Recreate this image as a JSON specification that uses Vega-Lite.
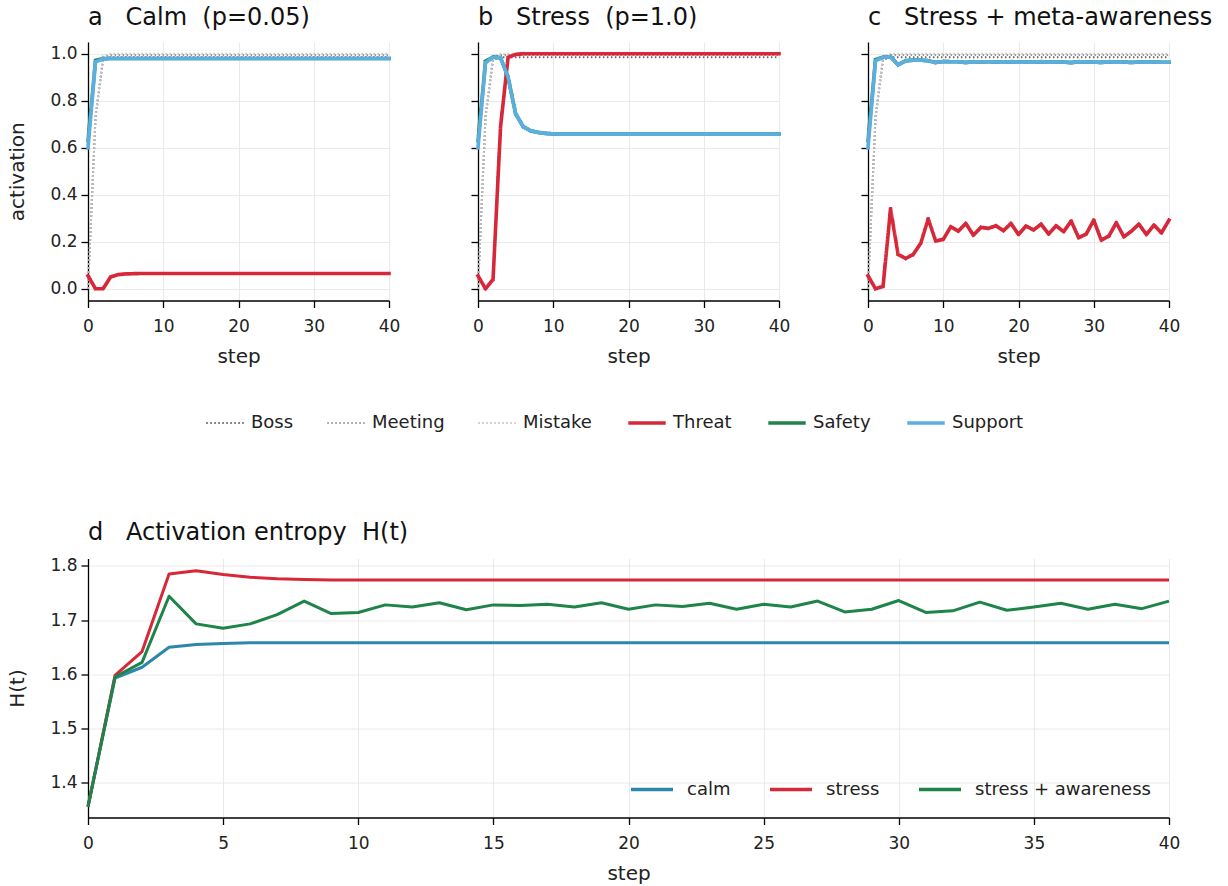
{
"$schema": "https://vega.github.io/schema/vega-lite/v6.json",
"padding": {"left": 7, "top": 6, "right": 10, "bottom": 6},
"background": "white",
"config": {
  "font": "DejaVu Sans",
  "view": {"stroke": null},
  "axis": {"domainColor": "#000", "domainWidth": 1.3, "tickColor": "#000", "tickWidth": 1.3, "tickSize": 7, "labelFont": "DejaVu Sans", "labelFontSize": 17, "labelColor": "#222", "labelPadding": 4, "labelFlush": false, "titleFont": "DejaVu Sans", "titleFontSize": 20, "titleFontWeight": "normal", "titleColor": "#222", "gridColor": "#e8e8e8", "gridWidth": 0.9},
  "axisX": {"titlePadding": 12, "labelPadding": 11},
  "axisY": {"titlePadding": 22},
  "title": {"font": "DejaVu Sans", "fontSize": 24, "fontWeight": "normal", "color": "#111", "anchor": "start", "frame": "group", "offset": 12},
  "legend": {"labelFont": "DejaVu Sans", "labelFontSize": 18, "labelColor": "#222", "labelLimit": 400}
},
"datasets": {
"a": [
{"step":0,"Boss":0,"Meeting":0,"Mistake":0,"Threat":0.055,"Safety":0.63,"Support":0.6},
{"step":1,"Boss":0.73,"Meeting":0.73,"Mistake":0.73,"Threat":0.0,"Safety":0.972,"Support":0.966},
{"step":2,"Boss":0.975,"Meeting":0.985,"Mistake":0.99,"Threat":0.0,"Safety":0.979,"Support":0.978},
{"step":3,"Boss":0.985,"Meeting":0.995,"Mistake":1.0,"Threat":0.05,"Safety":0.98,"Support":0.98},
{"step":4,"Boss":0.985,"Meeting":0.995,"Mistake":1.0,"Threat":0.06,"Safety":0.98,"Support":0.98},
{"step":5,"Boss":0.985,"Meeting":0.995,"Mistake":1.0,"Threat":0.063,"Safety":0.98,"Support":0.98},
{"step":6,"Boss":0.985,"Meeting":0.995,"Mistake":1.0,"Threat":0.064,"Safety":0.98,"Support":0.98},
{"step":7,"Boss":0.985,"Meeting":0.995,"Mistake":1.0,"Threat":0.065,"Safety":0.98,"Support":0.98},
{"step":8,"Boss":0.985,"Meeting":0.995,"Mistake":1.0,"Threat":0.065,"Safety":0.98,"Support":0.98},
{"step":9,"Boss":0.985,"Meeting":0.995,"Mistake":1.0,"Threat":0.065,"Safety":0.98,"Support":0.98},
{"step":10,"Boss":0.985,"Meeting":0.995,"Mistake":1.0,"Threat":0.065,"Safety":0.98,"Support":0.98},
{"step":11,"Boss":0.985,"Meeting":0.995,"Mistake":1.0,"Threat":0.065,"Safety":0.98,"Support":0.98},
{"step":12,"Boss":0.985,"Meeting":0.995,"Mistake":1.0,"Threat":0.065,"Safety":0.98,"Support":0.98},
{"step":13,"Boss":0.985,"Meeting":0.995,"Mistake":1.0,"Threat":0.065,"Safety":0.98,"Support":0.98},
{"step":14,"Boss":0.985,"Meeting":0.995,"Mistake":1.0,"Threat":0.065,"Safety":0.98,"Support":0.98},
{"step":15,"Boss":0.985,"Meeting":0.995,"Mistake":1.0,"Threat":0.065,"Safety":0.98,"Support":0.98},
{"step":16,"Boss":0.985,"Meeting":0.995,"Mistake":1.0,"Threat":0.065,"Safety":0.98,"Support":0.98},
{"step":17,"Boss":0.985,"Meeting":0.995,"Mistake":1.0,"Threat":0.065,"Safety":0.98,"Support":0.98},
{"step":18,"Boss":0.985,"Meeting":0.995,"Mistake":1.0,"Threat":0.065,"Safety":0.98,"Support":0.98},
{"step":19,"Boss":0.985,"Meeting":0.995,"Mistake":1.0,"Threat":0.065,"Safety":0.98,"Support":0.98},
{"step":20,"Boss":0.985,"Meeting":0.995,"Mistake":1.0,"Threat":0.065,"Safety":0.98,"Support":0.98},
{"step":21,"Boss":0.985,"Meeting":0.995,"Mistake":1.0,"Threat":0.065,"Safety":0.98,"Support":0.98},
{"step":22,"Boss":0.985,"Meeting":0.995,"Mistake":1.0,"Threat":0.065,"Safety":0.98,"Support":0.98},
{"step":23,"Boss":0.985,"Meeting":0.995,"Mistake":1.0,"Threat":0.065,"Safety":0.98,"Support":0.98},
{"step":24,"Boss":0.985,"Meeting":0.995,"Mistake":1.0,"Threat":0.065,"Safety":0.98,"Support":0.98},
{"step":25,"Boss":0.985,"Meeting":0.995,"Mistake":1.0,"Threat":0.065,"Safety":0.98,"Support":0.98},
{"step":26,"Boss":0.985,"Meeting":0.995,"Mistake":1.0,"Threat":0.065,"Safety":0.98,"Support":0.98},
{"step":27,"Boss":0.985,"Meeting":0.995,"Mistake":1.0,"Threat":0.065,"Safety":0.98,"Support":0.98},
{"step":28,"Boss":0.985,"Meeting":0.995,"Mistake":1.0,"Threat":0.065,"Safety":0.98,"Support":0.98},
{"step":29,"Boss":0.985,"Meeting":0.995,"Mistake":1.0,"Threat":0.065,"Safety":0.98,"Support":0.98},
{"step":30,"Boss":0.985,"Meeting":0.995,"Mistake":1.0,"Threat":0.065,"Safety":0.98,"Support":0.98},
{"step":31,"Boss":0.985,"Meeting":0.995,"Mistake":1.0,"Threat":0.065,"Safety":0.98,"Support":0.98},
{"step":32,"Boss":0.985,"Meeting":0.995,"Mistake":1.0,"Threat":0.065,"Safety":0.98,"Support":0.98},
{"step":33,"Boss":0.985,"Meeting":0.995,"Mistake":1.0,"Threat":0.065,"Safety":0.98,"Support":0.98},
{"step":34,"Boss":0.985,"Meeting":0.995,"Mistake":1.0,"Threat":0.065,"Safety":0.98,"Support":0.98},
{"step":35,"Boss":0.985,"Meeting":0.995,"Mistake":1.0,"Threat":0.065,"Safety":0.98,"Support":0.98},
{"step":36,"Boss":0.985,"Meeting":0.995,"Mistake":1.0,"Threat":0.065,"Safety":0.98,"Support":0.98},
{"step":37,"Boss":0.985,"Meeting":0.995,"Mistake":1.0,"Threat":0.065,"Safety":0.98,"Support":0.98},
{"step":38,"Boss":0.985,"Meeting":0.995,"Mistake":1.0,"Threat":0.065,"Safety":0.98,"Support":0.98},
{"step":39,"Boss":0.985,"Meeting":0.995,"Mistake":1.0,"Threat":0.065,"Safety":0.98,"Support":0.98},
{"step":40,"Boss":0.985,"Meeting":0.995,"Mistake":1.0,"Threat":0.065,"Safety":0.98,"Support":0.98}
],
"b": [
{"step":0,"Boss":0,"Meeting":0,"Mistake":0,"Threat":0.055,"Safety":0.63,"Support":0.6},
{"step":1,"Boss":0.73,"Meeting":0.73,"Mistake":0.73,"Threat":0.0,"Safety":0.968,"Support":0.962},
{"step":2,"Boss":0.975,"Meeting":0.985,"Mistake":0.99,"Threat":0.04,"Safety":0.986,"Support":0.985},
{"step":3,"Boss":0.985,"Meeting":0.995,"Mistake":1.0,"Threat":0.69,"Safety":0.983,"Support":0.983},
{"step":4,"Boss":0.985,"Meeting":0.995,"Mistake":1.0,"Threat":0.985,"Safety":0.9,"Support":0.9},
{"step":5,"Boss":0.985,"Meeting":0.995,"Mistake":1.0,"Threat":0.997,"Safety":0.745,"Support":0.745},
{"step":6,"Boss":0.985,"Meeting":0.995,"Mistake":1.0,"Threat":1.0,"Safety":0.69,"Support":0.69},
{"step":7,"Boss":0.985,"Meeting":0.995,"Mistake":1.0,"Threat":1.0,"Safety":0.672,"Support":0.672},
{"step":8,"Boss":0.985,"Meeting":0.995,"Mistake":1.0,"Threat":1.0,"Safety":0.665,"Support":0.665},
{"step":9,"Boss":0.985,"Meeting":0.995,"Mistake":1.0,"Threat":1.0,"Safety":0.661,"Support":0.661},
{"step":10,"Boss":0.985,"Meeting":0.995,"Mistake":1.0,"Threat":1.0,"Safety":0.659,"Support":0.659},
{"step":11,"Boss":0.985,"Meeting":0.995,"Mistake":1.0,"Threat":1.0,"Safety":0.658,"Support":0.658},
{"step":12,"Boss":0.985,"Meeting":0.995,"Mistake":1.0,"Threat":1.0,"Safety":0.658,"Support":0.658},
{"step":13,"Boss":0.985,"Meeting":0.995,"Mistake":1.0,"Threat":1.0,"Safety":0.658,"Support":0.658},
{"step":14,"Boss":0.985,"Meeting":0.995,"Mistake":1.0,"Threat":1.0,"Safety":0.658,"Support":0.658},
{"step":15,"Boss":0.985,"Meeting":0.995,"Mistake":1.0,"Threat":1.0,"Safety":0.658,"Support":0.658},
{"step":16,"Boss":0.985,"Meeting":0.995,"Mistake":1.0,"Threat":1.0,"Safety":0.658,"Support":0.658},
{"step":17,"Boss":0.985,"Meeting":0.995,"Mistake":1.0,"Threat":1.0,"Safety":0.658,"Support":0.658},
{"step":18,"Boss":0.985,"Meeting":0.995,"Mistake":1.0,"Threat":1.0,"Safety":0.658,"Support":0.658},
{"step":19,"Boss":0.985,"Meeting":0.995,"Mistake":1.0,"Threat":1.0,"Safety":0.658,"Support":0.658},
{"step":20,"Boss":0.985,"Meeting":0.995,"Mistake":1.0,"Threat":1.0,"Safety":0.658,"Support":0.658},
{"step":21,"Boss":0.985,"Meeting":0.995,"Mistake":1.0,"Threat":1.0,"Safety":0.658,"Support":0.658},
{"step":22,"Boss":0.985,"Meeting":0.995,"Mistake":1.0,"Threat":1.0,"Safety":0.658,"Support":0.658},
{"step":23,"Boss":0.985,"Meeting":0.995,"Mistake":1.0,"Threat":1.0,"Safety":0.658,"Support":0.658},
{"step":24,"Boss":0.985,"Meeting":0.995,"Mistake":1.0,"Threat":1.0,"Safety":0.658,"Support":0.658},
{"step":25,"Boss":0.985,"Meeting":0.995,"Mistake":1.0,"Threat":1.0,"Safety":0.658,"Support":0.658},
{"step":26,"Boss":0.985,"Meeting":0.995,"Mistake":1.0,"Threat":1.0,"Safety":0.658,"Support":0.658},
{"step":27,"Boss":0.985,"Meeting":0.995,"Mistake":1.0,"Threat":1.0,"Safety":0.658,"Support":0.658},
{"step":28,"Boss":0.985,"Meeting":0.995,"Mistake":1.0,"Threat":1.0,"Safety":0.658,"Support":0.658},
{"step":29,"Boss":0.985,"Meeting":0.995,"Mistake":1.0,"Threat":1.0,"Safety":0.658,"Support":0.658},
{"step":30,"Boss":0.985,"Meeting":0.995,"Mistake":1.0,"Threat":1.0,"Safety":0.658,"Support":0.658},
{"step":31,"Boss":0.985,"Meeting":0.995,"Mistake":1.0,"Threat":1.0,"Safety":0.658,"Support":0.658},
{"step":32,"Boss":0.985,"Meeting":0.995,"Mistake":1.0,"Threat":1.0,"Safety":0.658,"Support":0.658},
{"step":33,"Boss":0.985,"Meeting":0.995,"Mistake":1.0,"Threat":1.0,"Safety":0.658,"Support":0.658},
{"step":34,"Boss":0.985,"Meeting":0.995,"Mistake":1.0,"Threat":1.0,"Safety":0.658,"Support":0.658},
{"step":35,"Boss":0.985,"Meeting":0.995,"Mistake":1.0,"Threat":1.0,"Safety":0.658,"Support":0.658},
{"step":36,"Boss":0.985,"Meeting":0.995,"Mistake":1.0,"Threat":1.0,"Safety":0.658,"Support":0.658},
{"step":37,"Boss":0.985,"Meeting":0.995,"Mistake":1.0,"Threat":1.0,"Safety":0.658,"Support":0.658},
{"step":38,"Boss":0.985,"Meeting":0.995,"Mistake":1.0,"Threat":1.0,"Safety":0.658,"Support":0.658},
{"step":39,"Boss":0.985,"Meeting":0.995,"Mistake":1.0,"Threat":1.0,"Safety":0.658,"Support":0.658},
{"step":40,"Boss":0.985,"Meeting":0.995,"Mistake":1.0,"Threat":1.0,"Safety":0.658,"Support":0.658}
],
"c": [
{"step":0,"Boss":0,"Meeting":0,"Mistake":0,"Threat":0.055,"Safety":0.63,"Support":0.6},
{"step":1,"Boss":0.73,"Meeting":0.73,"Mistake":0.73,"Threat":0.0,"Safety":0.975,"Support":0.97},
{"step":2,"Boss":0.975,"Meeting":0.985,"Mistake":0.99,"Threat":0.01,"Safety":0.985,"Support":0.985},
{"step":3,"Boss":0.985,"Meeting":0.995,"Mistake":1.0,"Threat":0.34,"Safety":0.987,"Support":0.987},
{"step":4,"Boss":0.985,"Meeting":0.995,"Mistake":1.0,"Threat":0.146,"Safety":0.953,"Support":0.953},
{"step":5,"Boss":0.985,"Meeting":0.995,"Mistake":1.0,"Threat":0.129,"Safety":0.97,"Support":0.97},
{"step":6,"Boss":0.985,"Meeting":0.995,"Mistake":1.0,"Threat":0.146,"Safety":0.973,"Support":0.973},
{"step":7,"Boss":0.985,"Meeting":0.995,"Mistake":1.0,"Threat":0.193,"Safety":0.973,"Support":0.973},
{"step":8,"Boss":0.985,"Meeting":0.995,"Mistake":1.0,"Threat":0.297,"Safety":0.97,"Support":0.97},
{"step":9,"Boss":0.985,"Meeting":0.995,"Mistake":1.0,"Threat":0.203,"Safety":0.963,"Support":0.963},
{"step":10,"Boss":0.985,"Meeting":0.995,"Mistake":1.0,"Threat":0.21,"Safety":0.967,"Support":0.967},
{"step":11,"Boss":0.985,"Meeting":0.995,"Mistake":1.0,"Threat":0.264,"Safety":0.966,"Support":0.966},
{"step":12,"Boss":0.985,"Meeting":0.995,"Mistake":1.0,"Threat":0.245,"Safety":0.966,"Support":0.966},
{"step":13,"Boss":0.985,"Meeting":0.995,"Mistake":1.0,"Threat":0.278,"Safety":0.963,"Support":0.963},
{"step":14,"Boss":0.985,"Meeting":0.995,"Mistake":1.0,"Threat":0.228,"Safety":0.966,"Support":0.966},
{"step":15,"Boss":0.985,"Meeting":0.995,"Mistake":1.0,"Threat":0.261,"Safety":0.965,"Support":0.965},
{"step":16,"Boss":0.985,"Meeting":0.995,"Mistake":1.0,"Threat":0.257,"Safety":0.966,"Support":0.966},
{"step":17,"Boss":0.985,"Meeting":0.995,"Mistake":1.0,"Threat":0.268,"Safety":0.965,"Support":0.965},
{"step":18,"Boss":0.985,"Meeting":0.995,"Mistake":1.0,"Threat":0.247,"Safety":0.964,"Support":0.964},
{"step":19,"Boss":0.985,"Meeting":0.995,"Mistake":1.0,"Threat":0.278,"Safety":0.966,"Support":0.966},
{"step":20,"Boss":0.985,"Meeting":0.995,"Mistake":1.0,"Threat":0.231,"Safety":0.964,"Support":0.964},
{"step":21,"Boss":0.985,"Meeting":0.995,"Mistake":1.0,"Threat":0.267,"Safety":0.965,"Support":0.965},
{"step":22,"Boss":0.985,"Meeting":0.995,"Mistake":1.0,"Threat":0.25,"Safety":0.964,"Support":0.964},
{"step":23,"Boss":0.985,"Meeting":0.995,"Mistake":1.0,"Threat":0.275,"Safety":0.966,"Support":0.966},
{"step":24,"Boss":0.985,"Meeting":0.995,"Mistake":1.0,"Threat":0.233,"Safety":0.964,"Support":0.964},
{"step":25,"Boss":0.985,"Meeting":0.995,"Mistake":1.0,"Threat":0.268,"Safety":0.965,"Support":0.965},
{"step":26,"Boss":0.985,"Meeting":0.995,"Mistake":1.0,"Threat":0.243,"Safety":0.965,"Support":0.965},
{"step":27,"Boss":0.985,"Meeting":0.995,"Mistake":1.0,"Threat":0.288,"Safety":0.962,"Support":0.962},
{"step":28,"Boss":0.985,"Meeting":0.995,"Mistake":1.0,"Threat":0.217,"Safety":0.966,"Support":0.966},
{"step":29,"Boss":0.985,"Meeting":0.995,"Mistake":1.0,"Threat":0.233,"Safety":0.965,"Support":0.965},
{"step":30,"Boss":0.985,"Meeting":0.995,"Mistake":1.0,"Threat":0.292,"Safety":0.965,"Support":0.965},
{"step":31,"Boss":0.985,"Meeting":0.995,"Mistake":1.0,"Threat":0.207,"Safety":0.963,"Support":0.963},
{"step":32,"Boss":0.985,"Meeting":0.995,"Mistake":1.0,"Threat":0.224,"Safety":0.966,"Support":0.966},
{"step":33,"Boss":0.985,"Meeting":0.995,"Mistake":1.0,"Threat":0.281,"Safety":0.964,"Support":0.964},
{"step":34,"Boss":0.985,"Meeting":0.995,"Mistake":1.0,"Threat":0.221,"Safety":0.965,"Support":0.965},
{"step":35,"Boss":0.985,"Meeting":0.995,"Mistake":1.0,"Threat":0.245,"Safety":0.963,"Support":0.963},
{"step":36,"Boss":0.985,"Meeting":0.995,"Mistake":1.0,"Threat":0.275,"Safety":0.965,"Support":0.965},
{"step":37,"Boss":0.985,"Meeting":0.995,"Mistake":1.0,"Threat":0.231,"Safety":0.964,"Support":0.964},
{"step":38,"Boss":0.985,"Meeting":0.995,"Mistake":1.0,"Threat":0.271,"Safety":0.965,"Support":0.965},
{"step":39,"Boss":0.985,"Meeting":0.995,"Mistake":1.0,"Threat":0.238,"Safety":0.964,"Support":0.964},
{"step":40,"Boss":0.985,"Meeting":0.995,"Mistake":1.0,"Threat":0.292,"Safety":0.964,"Support":0.964}
],
"h": [
{"step":0,"calm":1.356,"stress":1.356,"stress + awareness":1.356},
{"step":1,"calm":1.593,"stress":1.598,"stress + awareness":1.595},
{"step":2,"calm":1.613,"stress":1.642,"stress + awareness":1.622},
{"step":3,"calm":1.65,"stress":1.785,"stress + awareness":1.744},
{"step":4,"calm":1.655,"stress":1.791,"stress + awareness":1.693},
{"step":5,"calm":1.657,"stress":1.784,"stress + awareness":1.685},
{"step":6,"calm":1.658,"stress":1.779,"stress + awareness":1.693},
{"step":7,"calm":1.658,"stress":1.776,"stress + awareness":1.71},
{"step":8,"calm":1.658,"stress":1.775,"stress + awareness":1.735},
{"step":9,"calm":1.658,"stress":1.774,"stress + awareness":1.712},
{"step":10,"calm":1.658,"stress":1.774,"stress + awareness":1.714},
{"step":11,"calm":1.658,"stress":1.774,"stress + awareness":1.728},
{"step":12,"calm":1.658,"stress":1.774,"stress + awareness":1.724},
{"step":13,"calm":1.658,"stress":1.774,"stress + awareness":1.732},
{"step":14,"calm":1.658,"stress":1.774,"stress + awareness":1.719},
{"step":15,"calm":1.658,"stress":1.774,"stress + awareness":1.728},
{"step":16,"calm":1.658,"stress":1.774,"stress + awareness":1.727},
{"step":17,"calm":1.658,"stress":1.774,"stress + awareness":1.729},
{"step":18,"calm":1.658,"stress":1.774,"stress + awareness":1.724},
{"step":19,"calm":1.658,"stress":1.774,"stress + awareness":1.732},
{"step":20,"calm":1.658,"stress":1.774,"stress + awareness":1.72},
{"step":21,"calm":1.658,"stress":1.774,"stress + awareness":1.728},
{"step":22,"calm":1.658,"stress":1.774,"stress + awareness":1.725},
{"step":23,"calm":1.658,"stress":1.774,"stress + awareness":1.731},
{"step":24,"calm":1.658,"stress":1.774,"stress + awareness":1.72},
{"step":25,"calm":1.658,"stress":1.774,"stress + awareness":1.729},
{"step":26,"calm":1.658,"stress":1.774,"stress + awareness":1.724},
{"step":27,"calm":1.658,"stress":1.774,"stress + awareness":1.735},
{"step":28,"calm":1.658,"stress":1.774,"stress + awareness":1.715},
{"step":29,"calm":1.658,"stress":1.774,"stress + awareness":1.72},
{"step":30,"calm":1.658,"stress":1.774,"stress + awareness":1.736},
{"step":31,"calm":1.658,"stress":1.774,"stress + awareness":1.714},
{"step":32,"calm":1.658,"stress":1.774,"stress + awareness":1.717},
{"step":33,"calm":1.658,"stress":1.774,"stress + awareness":1.733},
{"step":34,"calm":1.658,"stress":1.774,"stress + awareness":1.718},
{"step":35,"calm":1.658,"stress":1.774,"stress + awareness":1.724},
{"step":36,"calm":1.658,"stress":1.774,"stress + awareness":1.731},
{"step":37,"calm":1.658,"stress":1.774,"stress + awareness":1.72},
{"step":38,"calm":1.658,"stress":1.774,"stress + awareness":1.729},
{"step":39,"calm":1.658,"stress":1.774,"stress + awareness":1.721},
{"step":40,"calm":1.658,"stress":1.774,"stress + awareness":1.735}
]
},
"vconcat": [
 {
  "hconcat": [
   {
    "width": 301, "height": 258.5,
    "title": {"text": "a\u00a0\u00a0\u00a0Calm\u00a0\u00a0(p=0.05)"},
    "data": {"name": "a"},
    "encoding": {
      "x": {"field": "step", "type": "quantitative", "scale": {"domain": [0, 40], "nice": false, "zero": false}, "axis": {"values": [0, 10, 20, 30, 40], "title": "step"}},
      "y": {"field": "value", "type": "quantitative", "scale": {"domain": [-0.05, 1.05], "nice": false, "zero": false}, "axis": {"values": [0, 0.2, 0.4, 0.6, 0.8, 1.0], "format": ".1f", "title": "activation"}},
      "color": {"field": "node", "type": "nominal", "scale": {"domain": ["Boss", "Meeting", "Mistake", "Threat", "Safety", "Support"], "range": ["#666666", "#999999", "#c4c4c4", "#d62839", "#1e8449", "#5aafe0"]}, "legend": null},
      "strokeDash": {"field": "node", "type": "nominal", "scale": {"domain": ["Boss", "Meeting", "Mistake", "Threat", "Safety", "Support"], "range": [[1.5, 2.5], [1.5, 2.5], [1.5, 2.5], [1, 0], [1, 0], [1, 0]]}, "legend": null}
    },
    "layer": [
      {"transform": [{"fold": ["Boss", "Meeting", "Mistake"], "as": ["node", "value"]}], "mark": {"type": "line", "strokeWidth": 2, "strokeCap": "butt"}},
      {"transform": [{"fold": ["Threat", "Safety", "Support"], "as": ["node", "value"]}], "mark": {"type": "line", "strokeWidth": 3.6, "strokeJoin": "round", "strokeCap": "square"}}
    ]
   },
   {
    "width": 301, "height": 258.5,
    "title": {"text": "b\u00a0\u00a0\u00a0Stress\u00a0\u00a0(p=1.0)"},
    "data": {"name": "b"},
    "encoding": {
      "x": {"field": "step", "type": "quantitative", "scale": {"domain": [0, 40], "nice": false, "zero": false}, "axis": {"values": [0, 10, 20, 30, 40], "title": "step"}},
      "y": {"field": "value", "type": "quantitative", "scale": {"domain": [-0.05, 1.05], "nice": false, "zero": false}, "axis": {"values": [0, 0.2, 0.4, 0.6, 0.8, 1.0], "labels": false, "title": null}},
      "color": {"field": "node", "type": "nominal", "scale": {"domain": ["Boss", "Meeting", "Mistake", "Threat", "Safety", "Support"], "range": ["#666666", "#999999", "#c4c4c4", "#d62839", "#1e8449", "#5aafe0"]},
        "legend": {"title": null, "orient": "none", "legendX": -262, "legendY": 372, "direction": "horizontal", "symbolType": "stroke", "symbolSize": 1400, "symbolStrokeWidth": 3.5, "labelOffset": 17, "columnPadding": 29, "labelFontSize": 18,
          "encode": {"symbols": {"update": {"strokeWidth": {"signal": "indexof(['Boss','Meeting','Mistake'], datum.value) >= 0 ? 2 : 3.5"}}}}}},
      "strokeDash": {"field": "node", "type": "nominal", "scale": {"domain": ["Boss", "Meeting", "Mistake", "Threat", "Safety", "Support"], "range": [[1.5, 2.5], [1.5, 2.5], [1.5, 2.5], [1, 0], [1, 0], [1, 0]]},
        "legend": {"title": null, "orient": "none", "legendX": -262, "legendY": 372, "direction": "horizontal", "symbolType": "stroke", "symbolSize": 1400, "symbolStrokeWidth": 3.5, "labelOffset": 17, "columnPadding": 29, "labelFontSize": 18,
          "encode": {"symbols": {"update": {"strokeWidth": {"signal": "indexof(['Boss','Meeting','Mistake'], datum.value) >= 0 ? 2 : 3.5"}}}}}}
    },
    "layer": [
      {"transform": [{"fold": ["Boss", "Meeting", "Mistake"], "as": ["node", "value"]}], "mark": {"type": "line", "strokeWidth": 2, "strokeCap": "butt"}},
      {"transform": [{"fold": ["Threat", "Safety", "Support"], "as": ["node", "value"]}], "mark": {"type": "line", "strokeWidth": 3.6, "strokeJoin": "round", "strokeCap": "square"}}
    ]
   },
   {
    "width": 301, "height": 258.5,
    "title": {"text": "c\u00a0\u00a0\u00a0Stress + meta-awareness"},
    "data": {"name": "c"},
    "encoding": {
      "x": {"field": "step", "type": "quantitative", "scale": {"domain": [0, 40], "nice": false, "zero": false}, "axis": {"values": [0, 10, 20, 30, 40], "title": "step"}},
      "y": {"field": "value", "type": "quantitative", "scale": {"domain": [-0.05, 1.05], "nice": false, "zero": false}, "axis": {"values": [0, 0.2, 0.4, 0.6, 0.8, 1.0], "labels": false, "title": null}},
      "color": {"field": "node", "type": "nominal", "scale": {"domain": ["Boss", "Meeting", "Mistake", "Threat", "Safety", "Support"], "range": ["#666666", "#999999", "#c4c4c4", "#d62839", "#1e8449", "#5aafe0"]}, "legend": null},
      "strokeDash": {"field": "node", "type": "nominal", "scale": {"domain": ["Boss", "Meeting", "Mistake", "Threat", "Safety", "Support"], "range": [[1.5, 2.5], [1.5, 2.5], [1.5, 2.5], [1, 0], [1, 0], [1, 0]]}, "legend": null}
    },
    "layer": [
      {"transform": [{"fold": ["Boss", "Meeting", "Mistake"], "as": ["node", "value"]}], "mark": {"type": "line", "strokeWidth": 2, "strokeCap": "butt"}},
      {"transform": [{"fold": ["Threat", "Safety", "Support"], "as": ["node", "value"]}], "mark": {"type": "line", "strokeWidth": 3.6, "strokeJoin": "round", "strokeCap": "square"}}
    ]
   }
  ],
  "spacing": 89,
  "bounds": "flush",
  "resolve": {"scale": {"color": "independent", "strokeDash": "independent"}, "legend": {"color": "independent", "strokeDash": "independent"}}
 },
 {
  "width": 1081, "height": 259,
  "title": {"text": "d\u00a0\u00a0\u00a0Activation entropy\u00a0\u00a0H(t)"},
  "data": {"name": "h"},
  "transform": [{"fold": ["calm", "stress", "stress + awareness"], "as": ["cond", "H"]}],
  "mark": {"type": "line", "strokeWidth": 3, "strokeJoin": "round"},
  "encoding": {
    "x": {"field": "step", "type": "quantitative", "scale": {"domain": [0, 40], "nice": false, "zero": false}, "axis": {"values": [0, 5, 10, 15, 20, 25, 30, 35, 40], "title": "step"}},
    "y": {"field": "H", "type": "quantitative", "scale": {"domain": [1.336, 1.8135], "nice": false, "zero": false}, "axis": {"values": [1.4, 1.5, 1.6, 1.7, 1.8], "format": ".1f", "title": "H(t)"}},
    "color": {"field": "cond", "type": "nominal", "scale": {"domain": ["calm", "stress", "stress + awareness"], "range": ["#2e86ab", "#d62839", "#1e8449"]},
      "legend": {"title": null, "orient": "none", "legendX": 541, "legendY": 208, "direction": "horizontal", "symbolType": "stroke", "symbolSize": 1764, "symbolStrokeWidth": 3.5, "labelOffset": 12, "columnPadding": 32, "labelFontSize": 18}}
  }
 }
],
"spacing": 516.5,
"bounds": "flush",
"resolve": {"scale": {"color": "independent", "strokeDash": "independent"}, "legend": {"color": "independent", "strokeDash": "independent"}}
}
